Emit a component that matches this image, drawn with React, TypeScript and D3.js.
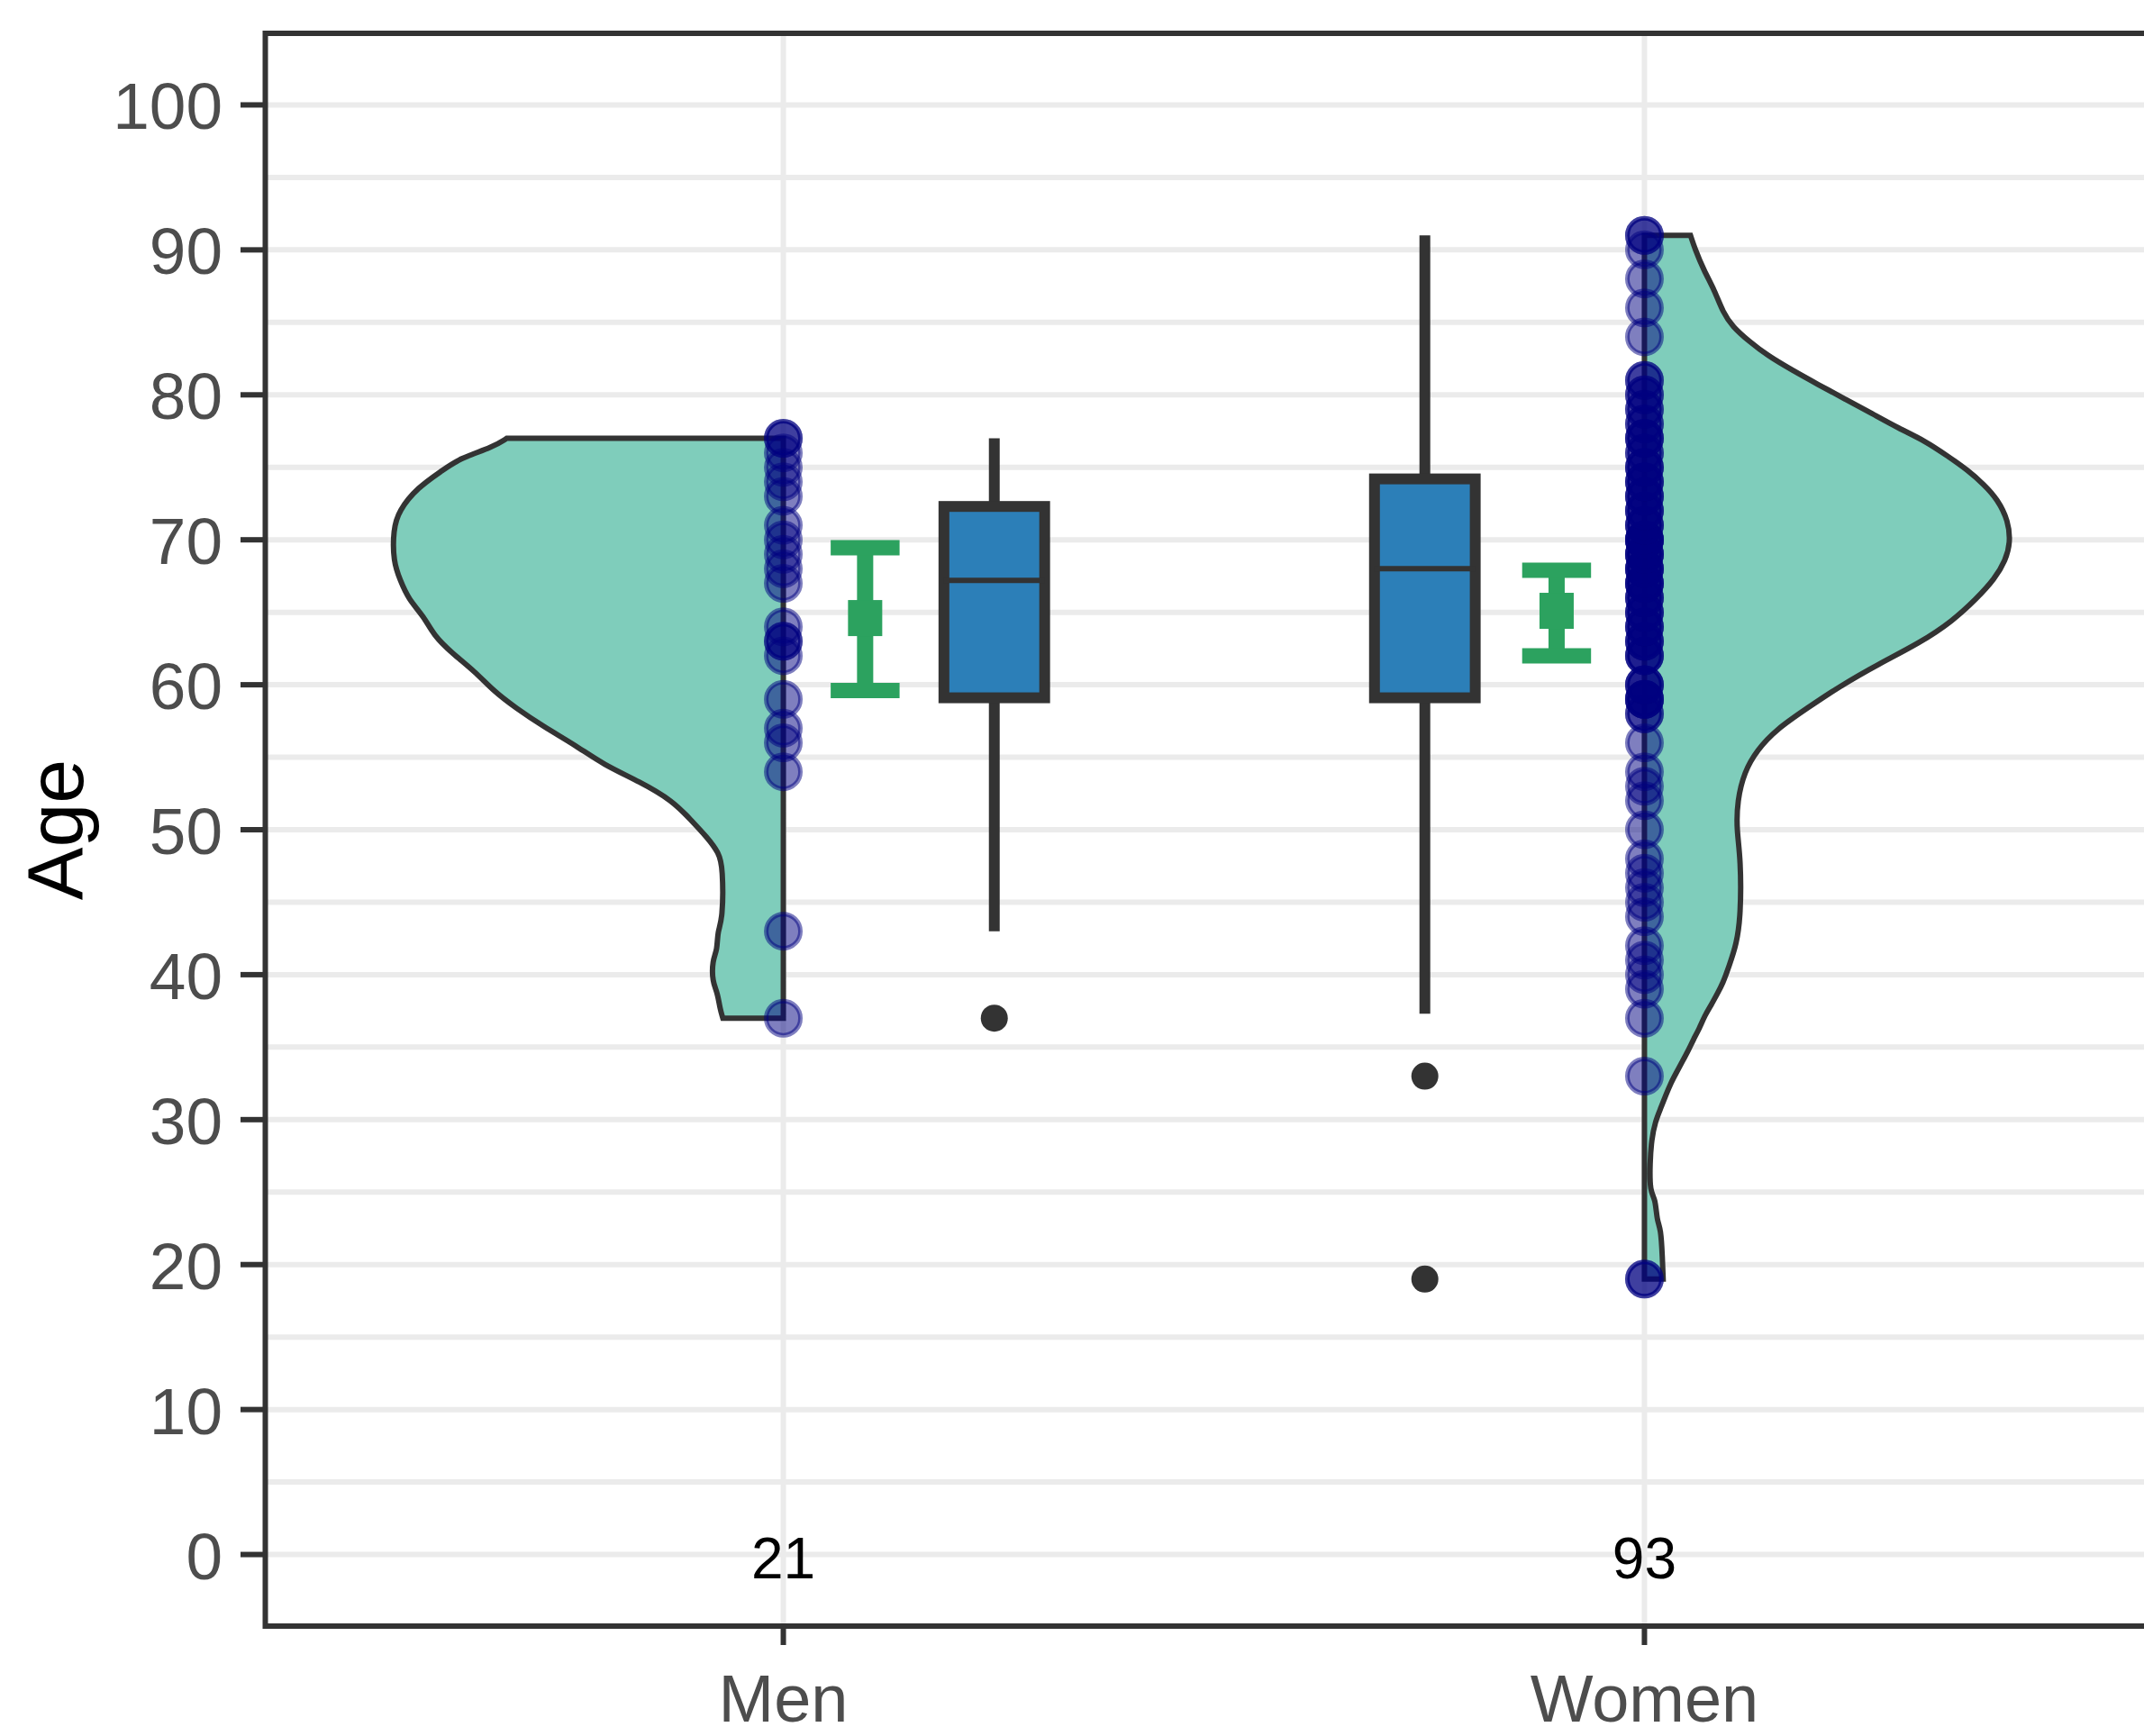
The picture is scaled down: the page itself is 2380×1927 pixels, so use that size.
import React from "react";
import * as d3 from "d3";

// groups and counts
const groups = ["Men", "Women"];
const counts = [21, 93];
const yBreaks = [0, 10, 20, 30, 40, 50, 60, 70, 80, 90, 100];

// individual ages
const menAges = [37, 43, 54, 56, 57, 59, 62, 63, 63, 64, 67, 68, 69, 70, 71, 73, 74, 75, 76, 77, 77];
const womenAges = [
  19, 19, 33, 37, 39, 40, 41, 42, 44, 45, 46, 47, 48, 50, 52, 53, 54, 56,
  58, 58, 59, 59, 59, 59,
  60, 60, 60, 62, 62, 62, 63, 63, 63, 64, 64, 64, 65, 65, 65, 66, 66, 66, 67, 67, 67, 67,
  68, 68, 68, 68, 69, 69, 69, 69, 70, 70, 70, 70, 70, 71, 71, 71, 72, 72, 72, 73, 73, 73, 74, 74, 74,
  75, 75, 75, 76, 76, 77, 77, 77, 78, 78, 79, 79, 80, 80, 81, 81,
  84, 86, 88, 90, 91, 91,
];

// boxplot: lower whisker, q1, median, q3, upper whisker
const menBox = [43, 59.1, 67.2, 72.3, 77];
const womenBox = [37.3, 59.1, 68.0, 74.2, 91];
const menOutliers = [37];
const womenOutliers = [33, 19];

// mean with 95% CI: lower, mean, upper
const menMeanCI = [59.6, 64.6, 69.45];
const womenMeanCI = [62.0, 65.1, 67.9];

// half violin outlines: age and relative density
const menViolinAge = [77, 76.4, 75.6, 74.8, 73.6, 72.0, 70.7, 68.5, 67.2, 65.9, 64.7, 63.4, 62.2, 60.9, 59.6, 58.4, 57.1, 55.8, 54.5, 53.3, 52.0, 50.7, 49.5, 48.4, 47.4, 43.8, 43.0, 41.7, 41.0, 39.5, 38.8, 37.6, 37];
const menViolinDensity = [0.709, 0.744, 0.831, 0.873, 0.938, 0.986, 1.0, 1.0, 0.982, 0.961, 0.921, 0.896, 0.85, 0.79, 0.744, 0.686, 0.614, 0.531, 0.462, 0.367, 0.284, 0.238, 0.196, 0.165, 0.155, 0.155, 0.169, 0.169, 0.182, 0.182, 0.169, 0.162, 0.155];
const womenViolinAge = [91, 90.1, 88.6, 87.2, 85.7, 84.7, 83.7, 82.7, 81.7, 80.7, 79.7, 78.7, 77.7, 76.8, 75.8, 74.8, 73.8, 72.8, 71.3, 69.8, 68.6, 67.3, 65.9, 64.4, 62.9, 61.4, 59.9, 58.4, 56.9, 55.5, 54.0, 52.0, 50.0, 48.0, 44.1, 42.1, 40.6, 39.4, 38.7, 37.9, 37.2, 36.3, 35.5, 34.8, 34.0, 33.3, 32.6, 31.7, 30.8, 29.9, 28.6, 27.0, 25.0, 24.6, 23.0, 22.5, 20.5, 19];
const womenViolinDensity = [0.118, 0.129, 0.152, 0.18, 0.201, 0.226, 0.268, 0.316, 0.379, 0.446, 0.515, 0.584, 0.651, 0.721, 0.776, 0.829, 0.871, 0.905, 0.933, 0.938, 0.926, 0.898, 0.85, 0.79, 0.707, 0.598, 0.501, 0.418, 0.337, 0.289, 0.256, 0.238, 0.236, 0.247, 0.247, 0.236, 0.217, 0.201, 0.187, 0.171, 0.155, 0.141, 0.125, 0.113, 0.097, 0.083, 0.069, 0.055, 0.042, 0.028, 0.018, 0.014, 0.014, 0.028, 0.032, 0.042, 0.046, 0.048];

const W = 2380;
const H = 1927;
const panelLeft = 294.5;
const panelTop = 37;
const panelBottom = 1805;
const panelRight = 2399;
const font = "'Liberation Sans', Arial, sans-serif";

const series = [
  { name: "Men", ages: menAges, box: menBox, outliers: menOutliers, ci: menMeanCI, vAge: menViolinAge, vDen: menViolinDensity, side: -1, ciOff: 0.095, boxOff: 0.245 },
  { name: "Women", ages: womenAges, box: womenBox, outliers: womenOutliers, ci: womenMeanCI, vAge: womenViolinAge, vDen: womenViolinDensity, side: 1, ciOff: -0.102, boxOff: -0.255 },
];

export default function App() {
  const y = d3.scaleLinear().domain([-5, 105]).range([1806, 36]);
  const x = d3.scalePoint<string>().domain(groups).range([296, 2399]).padding(0.6);
  const step = x.step();
  const violinW = d3.scaleLinear().domain([0, 1]).range([0, 0.453 * step]);
  const minorBreaks = d3.pairs(yBreaks).map(([a, b]) => (a + b) / 2);
  const boxHalf = 0.0585 * step;
  const capHalf = 0.04 * step;

  return (
    <svg width={W} height={H} style={{ position: "absolute", left: 0, top: 0, background: "#fff" }}>
      <rect x={0} y={0} width={W} height={H} fill="#fff" />
      {/* grid */}
      <g stroke="#EBEBEB" strokeWidth={6}>
        {minorBreaks.map((v) => (
          <line key={"mi" + v} x1={panelLeft} x2={panelRight} y1={y(v)} y2={y(v)} />
        ))}
        {yBreaks.map((v) => (
          <line key={"ma" + v} x1={panelLeft} x2={panelRight} y1={y(v)} y2={y(v)} />
        ))}
        {groups.map((g) => (
          <line key={g} x1={x(g)} x2={x(g)} y1={panelTop} y2={panelBottom} />
        ))}
      </g>

      {series.map((s) => {
        const cx = x(s.name) as number;
        const pts = s.vAge.map((a, i) => [a, s.vDen[i]] as [number, number]);
        const area = d3
          .area<[number, number]>()
          .y((d) => y(d[0]))
          .x0(cx)
          .x1((d) => cx + s.side * violinW(d[1]))
          .curve(d3.curveBasis);
        const bx = cx + s.boxOff * step;
        const ex = cx + s.ciOff * step;
        const [lw, q1, med, q3, uw] = s.box;
        const [lo, mean, hi] = s.ci;
        return (
          <g key={s.name}>
            <path d={area(pts) || ""} fill="#7FCDBB" stroke="#333333" strokeWidth={6} />
            {s.ages.map((a, i) => (
              <circle key={i} cx={cx} cy={y(a)} r={19} fill="#000080" fillOpacity={0.5} stroke="#000080" strokeOpacity={0.5} strokeWidth={5} />
            ))}
            {/* mean and CI */}
            <g stroke="#2CA25F">
              <line x1={ex} x2={ex} y1={y(hi)} y2={y(lo)} strokeWidth={18} />
              <line x1={ex - capHalf} x2={ex + capHalf} y1={y(hi)} y2={y(hi)} strokeWidth={17} />
              <line x1={ex - capHalf} x2={ex + capHalf} y1={y(lo)} y2={y(lo)} strokeWidth={17} />
            </g>
            <rect x={ex - 19} y={y(mean) - 20} width={38} height={40} fill="#2CA25F" />
            {/* boxplot */}
            <g stroke="#333333" strokeWidth={12}>
              <line x1={bx} x2={bx} y1={y(uw)} y2={y(q3)} />
              <line x1={bx} x2={bx} y1={y(q1)} y2={y(lw)} />
              <rect x={bx - boxHalf} y={y(q3)} width={boxHalf * 2} height={y(q1) - y(q3)} fill="#2C7FB8" />
            </g>
            <line x1={bx - boxHalf} x2={bx + boxHalf} y1={y(med)} y2={y(med)} stroke="#333333" strokeWidth={6} />
            {s.outliers.map((o, i) => (
              <circle key={"o" + i} cx={bx} cy={y(o)} r={15} fill="#333333" />
            ))}
          </g>
        );
      })}

      {/* counts */}
      {groups.map((g, i) => (
        <text key={"n" + g} x={x(g)} y={y(0) + 26} textAnchor="middle" fontFamily={font} fontSize={64} fill="#000">
          {counts[i]}
        </text>
      ))}

      {/* panel border */}
      <rect x={panelLeft} y={panelTop} width={panelRight - panelLeft} height={panelBottom - panelTop} fill="none" stroke="#333333" strokeWidth={6} />

      {/* y axis */}
      {yBreaks.map((v) => (
        <g key={"yt" + v}>
          <line x1={267} x2={292} y1={y(v)} y2={y(v)} stroke="#333333" strokeWidth={6} />
          <text x={247} y={y(v) + 27} textAnchor="end" fontFamily={font} fontSize={73} fill="#4D4D4D">
            {v}
          </text>
        </g>
      ))}
      {/* x axis */}
      {groups.map((g) => (
        <g key={"xt" + g}>
          <line x1={x(g)} x2={x(g)} y1={1808} y2={1826} stroke="#333333" strokeWidth={6} />
          <text x={x(g)} y={1911} textAnchor="middle" fontFamily={font} fontSize={74} fill="#4D4D4D">
            {g}
          </text>
        </g>
      ))}
      <text transform={`translate(92, ${(panelTop + panelBottom) / 2}) rotate(-90)`} textAnchor="middle" fontFamily={font} fontSize={88} fill="#000">
        Age
      </text>
    </svg>
  );
}
